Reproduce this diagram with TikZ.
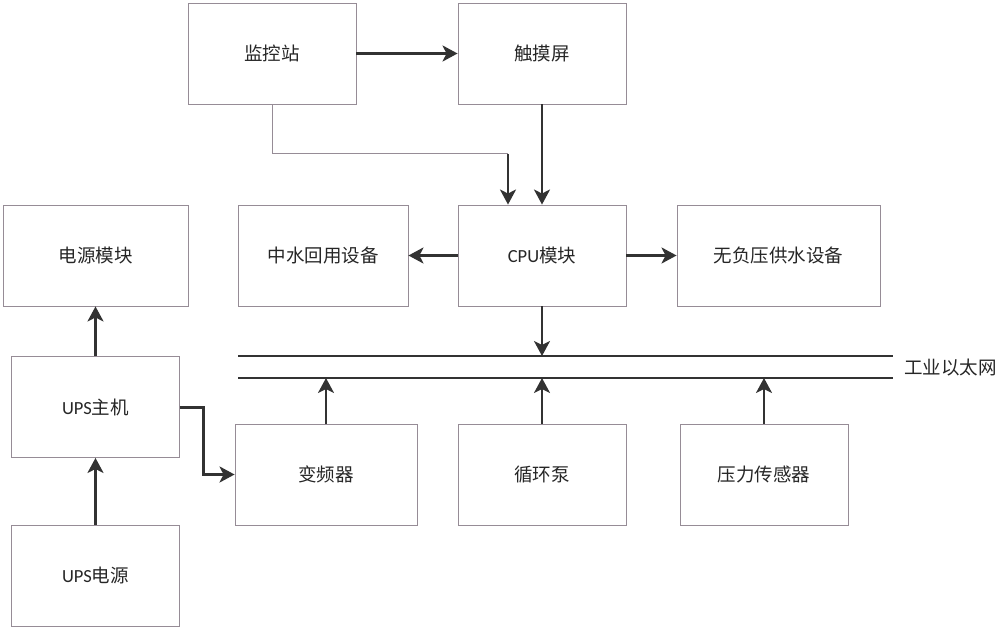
\documentclass[tikz,border=0pt]{standalone}
\usepackage{fontspec}
\setmainfont{Carlito}
\newfontfamily\cjk{Noto Sans CJK SC}
\usetikzlibrary{arrows.meta}
\definecolor{boxgray}{RGB}{150,140,150}
\definecolor{linedark}{RGB}{50,50,50}
\begin{document}
\begin{tikzpicture}[x=1pt,y=-1pt,
    blk/.style={draw=boxgray,line width=0.9pt,minimum height=101pt,inner sep=0pt,
      font=\cjk\fontsize{18.5}{21}\selectfont,text=black!85},
    arr/.style={draw=linedark,line width=2.6pt,-{Stealth[length=15pt,width=16pt,inset=4pt]}},
    bus/.style={draw=linedark,line width=2.8pt}]
      \useasboundingbox (0,0) rectangle (1000,628);
      \node[blk,minimum width=168pt] (jkz) at (272,53.5) {监控站};
      \node[blk,minimum width=168pt] (cmp) at (542,53.5) {触摸屏};
      \node[blk,minimum width=185pt] (dymk) at (95.5,255.5) {电源模块};
      \node[blk,minimum width=170pt] (zshy) at (323,255.5) {中水回用设备};
      \node[blk,minimum width=168pt] (cpu) at (542,255.5) {{\rmfamily CPU}模块};
      \node[blk,minimum width=203pt] (wfy) at (778.5,255.5) {无负压供水设备};
      \node[blk,minimum width=168pt] (upszj) at (95.5,407) {{\rmfamily UPS}主机};
      \node[blk,minimum width=168pt] (upsdy) at (95.5,575.5) {{\rmfamily UPS}电源};
      \node[blk,minimum width=182pt] (bpq) at (326,474.5) {变频器};
      \node[blk,minimum width=168pt] (xhb) at (542,474.5) {循环泵};
      \node[blk,minimum width=168pt] (ylcgq) at (764,474.5) {压力传感器};
      \coordinate (busa1) at (238,356);
      \coordinate (busa2) at (893,356);
      \coordinate (busb1) at (238,378);
      \coordinate (busb2) at (893,378);
      \draw[bus] (busa1) -- (busa2);
      \draw[bus] (busb1) -- (busb2);
      \node[font=\cjk\fontsize{18.5}{21}\selectfont,text=black!85,anchor=west,inner sep=0pt] (gyytw) at (904,368) {工业以太网};
      \draw[arr] (jkz.east) -- (cmp.west);
      \draw[arr] (cmp.south) -- (cpu.north);
      \coordinate (zhuan) at (508,154);
      \draw[boxgray,line width=1pt] (jkz.south) |- (zhuan);
      \draw[arr] (zhuan) -- (zhuan |- cpu.north);
      \draw[arr] (cpu.west) -- (zshy.east);
      \draw[arr] (cpu.east) -- (wfy.west);
      \draw[arr] (cpu.south) -- (cpu.south |- busa1);
      \draw[arr] (bpq.north) -- (bpq.north |- busb1);
      \draw[arr] (xhb.north) -- (xhb.north |- busb1);
      \draw[arr] (ylcgq.north) -- (ylcgq.north |- busb1);
      \draw[arr] (upszj.north) -- (dymk.south);
      \draw[arr] (upsdy.north) -- (upszj.south);
      \draw[arr,line width=3pt] (upszj.east) -- ++(24,0) |- (bpq.west);
    \end{tikzpicture}
\end{document}
